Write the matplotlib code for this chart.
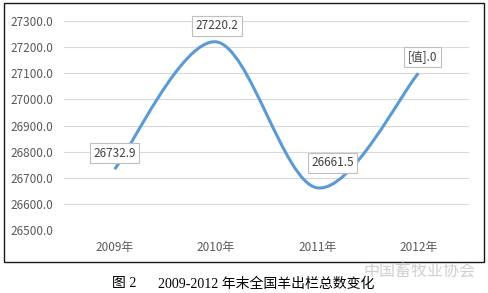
import matplotlib
matplotlib.use("Agg")
import matplotlib.pyplot as plt
from matplotlib.path import Path
from matplotlib.patches import PathPatch, Rectangle

plt.rcParams['font.family'] = ['Noto Sans CJK SC', 'DejaVu Sans']

# ---------- data ----------
years = ['2009年', '2010年', '2011年', '2012年']
totals = [26732.9, 27220.2, 26661.5, 27100.0]
point_labels = ['26732.9', '27220.2', '26661.5', '[值].0']
y_ticks = [26500, 26600, 26700, 26800, 26900, 27000, 27100, 27200, 27300]

LINE = '#5B9BD5'
TXT = '#595959'

fig = plt.figure(figsize=(4.89, 2.93), dpi=100)
ax = fig.add_axes([64/489, 1-230/293, 405/489, 209/293])

# chart frame like the excel chart area
fig.patches.append(Rectangle((4/489, 1-262/293), 480/489, 259/293,
                             transform=fig.transFigure, fill=False,
                             edgecolor='#1a1a1a', linewidth=1.0))

# ---------- smoothed line (excel style bezier) ----------
xs = list(range(len(totals)))
n = len(totals)
verts = [(xs[0], totals[0])]
codes = [Path.MOVETO]
for i in range(n - 1):
    p_prev = max(i - 1, 0)
    p_next = min(i + 2, n - 1)
    c1 = (xs[i] + (xs[i+1] - xs[p_prev]) / 6, totals[i] + (totals[i+1] - totals[p_prev]) / 6)
    c2 = (xs[i+1] - (xs[p_next] - xs[i]) / 6, totals[i+1] - (totals[p_next] - totals[i]) / 6)
    verts += [c1, c2, (xs[i+1], totals[i+1])]
    codes += [Path.CURVE4] * 3
ax.add_patch(PathPatch(Path(verts, codes), fill=False, edgecolor=LINE,
                       linewidth=2.2, capstyle='butt', zorder=3))

# ---------- data labels ----------
offsets = [(0, 11.5), (1, 11.5), (11, 18), (3, 11.5)]
for x, y, lab, off in zip(xs, totals, point_labels, offsets):
    ax.annotate(lab, (x, y), xytext=off, textcoords='offset points',
                ha='center', va='center', fontsize=8.5, color='#404040',
                bbox=dict(boxstyle='square,pad=0.3', facecolor='white',
                          edgecolor='#bfbfbf', linewidth=0.8), zorder=4)

ax.set_xlim(-0.5, 3.5)
ax.set_ylim(26500, 27300)
ax.set_xticks(xs)
ax.set_xticklabels(years)
ax.set_yticks(y_ticks)
ax.set_yticklabels([f'{v:.1f}' for v in y_ticks])
ax.tick_params(axis='both', length=0, labelsize=8.5, labelcolor=TXT)
ax.tick_params(axis='y', pad=8)
ax.tick_params(axis='x', pad=8)
ax.grid(axis='y', color='#d9d9d9', linewidth=0.8)
ax.set_axisbelow(True)
for s in ax.spines.values():
    s.set_visible(False)

# ---------- caption + watermark ----------
fig.text(112/489, 1-284/293, '图 2', fontsize=10, color='black',
         family=['Liberation Serif', 'Noto Sans CJK SC'], va='center')
fig.text(158/489, 1-284/293, '2009-2012 年末全国羊出栏总数变化', fontsize=10,
         color='black', family=['Liberation Serif', 'Noto Sans CJK SC'], va='center')
fig.text(363/489, 1-272/293, '中国畜牧业协会', fontsize=11.5, color='#cfcfcf',
         va='center')

fig.savefig('out.png', dpi=100, facecolor='white')
